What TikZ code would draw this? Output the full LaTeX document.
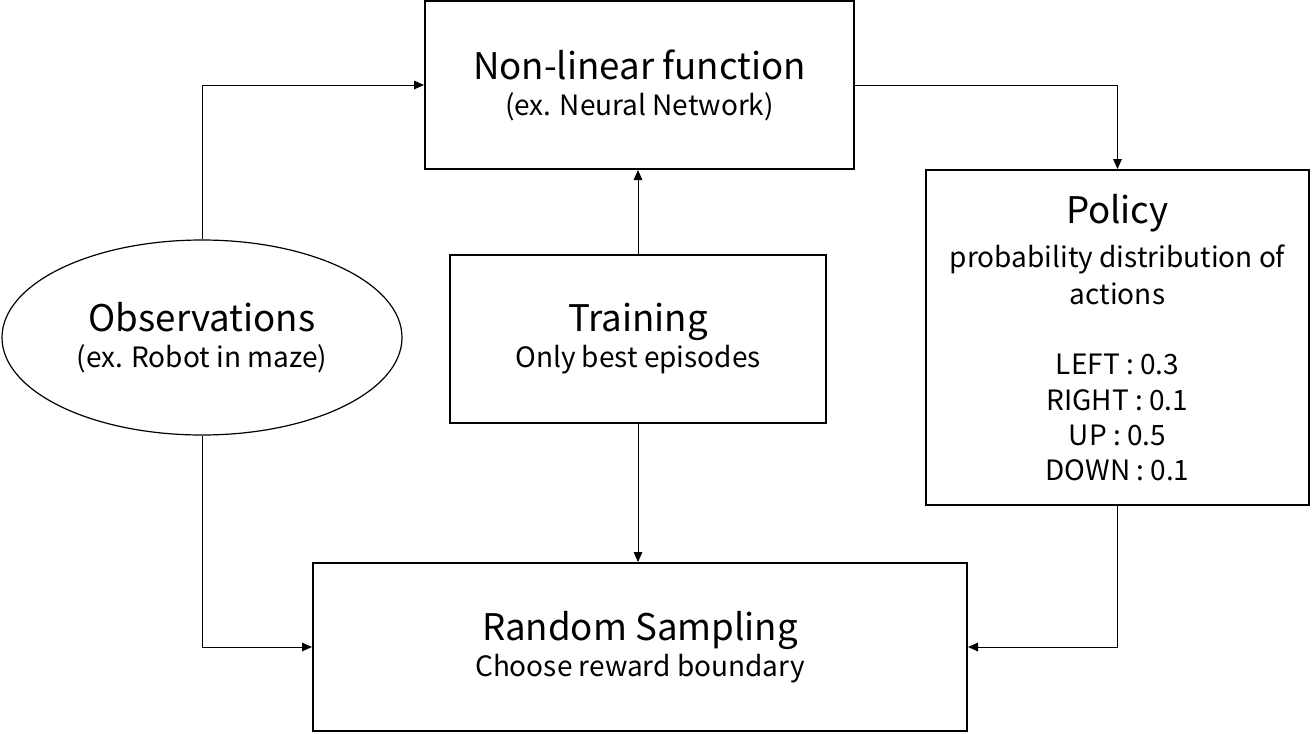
\documentclass[tikz,border=0pt]{standalone}
\usepackage{fontspec}
\setmainfont{Noto Sans CJK KR}
\usetikzlibrary{arrows.meta,positioning,shapes.geometric}
\newcommand{\boxtitle}[1]{{\fontsize{27.5}{33}\selectfont #1}}
\tikzset{
  blockbox/.style={draw, line width=1.5pt, rectangle, inner sep=0pt, align=center,
    font=\fontsize{21}{27}\selectfont},
  obsshape/.style={draw, line width=0.9pt, ellipse, inner sep=0pt, align=center,
    font=\fontsize{21}{27}\selectfont},
  flow/.style={line width=0.75pt, -{Triangle[length=7.5pt,width=6.5pt]}}
}

\begin{document}
\begin{tikzpicture}[x=0.75pt, y=-0.75pt]
      \useasboundingbox (0, 0) rectangle (1315, 733);

      \node[blockbox, minimum width=321.75pt, minimum height=126pt] (nonlin) at (639.5, 85)
        {\boxtitle{Non-linear function}\\(ex. Neural Network)};
      \node[blockbox, minimum width=287.25pt, minimum height=251.25pt,
        font=\fontsize{21}{26.5}\selectfont] (policy) at (1117.5, 337.5)
        {\boxtitle{Policy}\\[6.5pt]probability distribution of\\[1.2pt]actions\\ \\LEFT : 0.3\\RIGHT : 0.1\\UP : 0.5\\DOWN : 0.1};
      \node[blockbox, minimum width=282pt, minimum height=126pt] (train) at (638, 339)
        {\boxtitle{Training}\\Only best episodes};
      \node[blockbox, minimum width=490.5pt, minimum height=126pt] (random) at (640, 647)
        {\boxtitle{Random Sampling}\\Choose reward boundary};
      \node[obsshape, minimum width=300pt, minimum height=146.25pt] (obs) at (202, 337.5)
        {\boxtitle{Observations}\\(ex. Robot in maze)};

      \draw[flow] (obs.north) |- (nonlin.west);
      \draw[flow] (nonlin.east) -| (policy.north);
      \draw[flow] (train.north) -- (train.north |- nonlin.south);
      \draw[flow] (train.south) -- (train.south |- random.north);
      \draw[flow] (obs.south) |- (random.west);
      \draw[flow] (policy.south) |- (random.east);
    \end{tikzpicture}
\end{document}
